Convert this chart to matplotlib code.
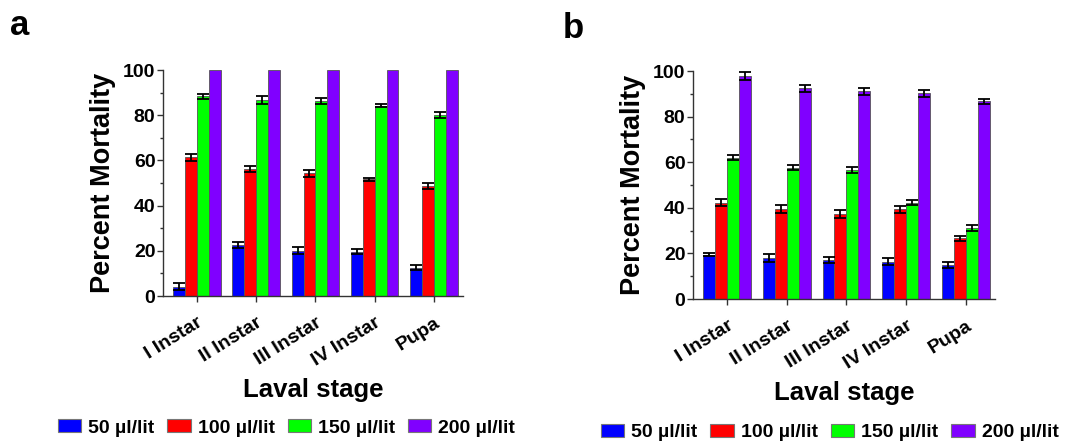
import matplotlib
matplotlib.use("Agg")
import matplotlib.pyplot as plt
import numpy as np
from matplotlib.patches import Patch
from matplotlib.ticker import MultipleLocator

plt.rcParams['font.family'] = ['Liberation Sans', 'DejaVu Sans']
plt.rcParams['font.weight'] = 'bold'

stages = ["I Instar", "II Instar", "III Instar", "IV Instar", "Pupa"]
doses = ["50 µl/lit", "100 µl/lit", "150 µl/lit", "200 µl/lit"]
colors = ["#0000FF", "#FF0000", "#00FF00", "#8000FF"]

# Panel a
a_50 = [4.1, 22.4, 20.1, 19.6, 12.6]
a_100 = [61.4, 56.2, 54.3, 51.6, 48.7]
a_150 = [88.4, 86.8, 86.4, 84.2, 80.1]
a_200 = [100, 100, 100, 100, 100]
a_50_err = [1.6, 1.3, 1.5, 1.1, 1.0]
a_100_err = [1.5, 1.4, 1.5, 0.6, 1.3]
a_150_err = [1.1, 1.7, 1.4, 0.6, 1.5]
a_200_err = [0, 0, 0, 0, 0]

# Panel b
b_50 = [19.4, 17.9, 17.3, 16.3, 15.1]
b_100 = [42.2, 39.5, 37.3, 39.3, 26.6]
b_150 = [62.0, 57.6, 56.6, 42.3, 31.2]
b_200 = [97.8, 92.5, 91.2, 90.2, 86.7]
b_50_err = [0.6, 1.7, 1.3, 1.5, 1.3]
b_100_err = [1.5, 1.6, 1.6, 1.6, 1.2]
b_150_err = [1.0, 1.2, 1.2, 1.1, 1.2]
b_200_err = [1.6, 1.5, 1.5, 1.4, 1.1]

fig = plt.figure(figsize=(10.69, 4.42), dpi=100)
axa = fig.add_axes([0.1525, 0.3303, 0.2806, 0.5113])
axb = fig.add_axes([0.6483, 0.3235, 0.2825, 0.5158])

TICKFS = 14

def draw(ax, vals, errs):
    x = np.arange(len(stages))
    w = 0.2
    for i, (v, e) in enumerate(zip(vals, errs)):
        ax.bar(x + (i - 1.5) * w, v, w, color=colors[i], edgecolor="#555555",
               linewidth=0.6, zorder=2)
        ee = np.array(e, dtype=float)
        mask = ee > 0
        ax.errorbar((x + (i - 1.5) * w)[mask], np.array(v)[mask], yerr=ee[mask],
                    fmt="none", ecolor="black", elinewidth=1.3, capsize=4,
                    capthick=1.3, zorder=3)
    ax.set_xlim(-0.57, 4.49)
    ax.set_ylim(0, 100)
    ax.yaxis.set_major_locator(MultipleLocator(20))
    ax.yaxis.set_minor_locator(MultipleLocator(10))
    ax.spines['top'].set_visible(False)
    ax.spines['right'].set_visible(False)
    for s in ['left', 'bottom']:
        ax.spines[s].set_color('#333333')
        ax.spines[s].set_linewidth(1.0)
    ax.set_xticks(x)
    ax.set_xticklabels(stages, rotation=32, ha='right', va='top',
                       rotation_mode='anchor', fontsize=TICKFS, fontweight='bold')
    ax.tick_params(axis='both', which='major', length=4, width=1, color='#333333',
                   labelsize=TICKFS)
    ax.tick_params(axis='y', which='minor', length=2.5, width=1, color='#333333')
    ax.tick_params(axis='y', which='major', pad=1.5)
    ax.tick_params(axis='x', which='major', pad=9)
    for t in ax.get_yticklabels():
        t.set_fontweight('bold')
    ax.set_ylabel("Percent Mortality", fontsize=19.5, fontweight='bold', labelpad=5)
    ax.set_xlabel("Laval stage", fontsize=18.5, fontweight='bold', labelpad=6)

draw(axa, [a_50, a_100, a_150, a_200], [a_50_err, a_100_err, a_150_err, a_200_err])
draw(axb, [b_50, b_100, b_150, b_200], [b_50_err, b_100_err, b_150_err, b_200_err])

fig.text(0.009, 0.92, "a", fontsize=25, fontweight='bold')
fig.text(0.526, 0.915, "b", fontsize=25, fontweight='bold')

handles = [Patch(facecolor=c, edgecolor="#777777", linewidth=0.8) for c in colors]
legkw = dict(loc='center', ncol=4, frameon=False, handlelength=1.2, handleheight=0.67,
             columnspacing=0.67, handletextpad=0.36, borderpad=0.1,
             prop={'weight': 'bold', 'size': 14})
fig.legend(handles, doses, bbox_to_anchor=(0.268, 0.032), **legkw)
fig.legend(handles, doses, bbox_to_anchor=(0.776, 0.021), **legkw)

fig.savefig("out.png", dpi=100)
